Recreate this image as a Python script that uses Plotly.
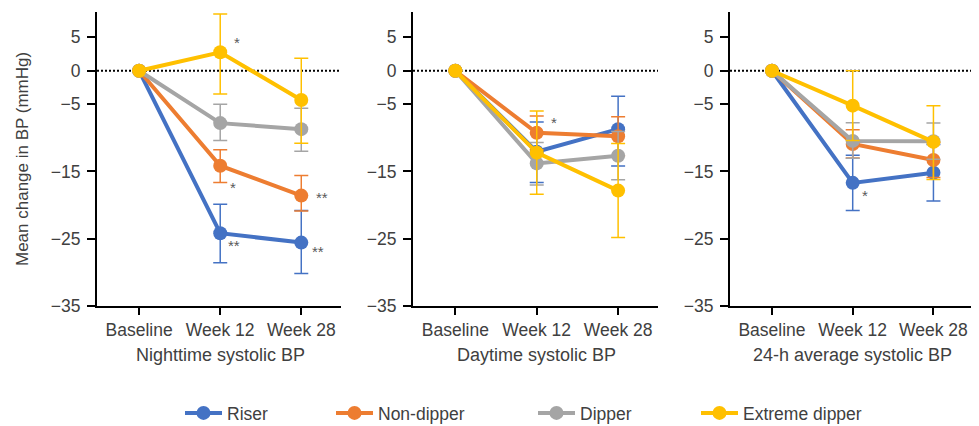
import plotly.graph_objects as go

# ---------------- data ----------------
timepoints = ["Baseline", "Week 12", "Week 28"]
panel_titles = ["Nighttime systolic BP", "Daytime systolic BP", "24-h average systolic BP"]
groups = ["Riser", "Non-dipper", "Dipper", "Extreme dipper"]
y_ticks = [5, 0, -5, -15, -25, -35]
y_title = "Mean change in BP (mmHg)"

# Nighttime systolic BP
night_riser = [0, -24.2, -25.6]
night_nondipper = [0, -14.15, -18.6]
night_dipper = [0, -7.8, -8.7]
night_extreme = [0, 2.75, -4.35]
night_riser_err_up = [0, 4.3, 4.8]
night_riser_err_dn = [0, 4.4, 4.6]
night_nondipper_err_up = [0, 2.4, 3.0]
night_nondipper_err_dn = [0, 2.5, 2.3]
night_dipper_err_up = [0, 2.8, 3.1]
night_dipper_err_dn = [0, 2.6, 3.3]
night_extreme_err_up = [0, 5.7, 6.2]
night_extreme_err_dn = [0, 6.2, 6.45]

# Daytime systolic BP
day_riser = [0, -12.05, -8.7]
day_nondipper = [0, -9.25, -9.75]
day_dipper = [0, -13.8, -12.65]
day_extreme = [0, -12.2, -17.85]
day_riser_err_up = [0, 4.4, 4.9]
day_riser_err_dn = [0, 4.6, 5.5]
day_nondipper_err_up = [0, 2.5, 2.9]
day_nondipper_err_dn = [0, 2.5, 2.9]
day_dipper_err_up = [0, 3.1, 3.6]
day_dipper_err_dn = [0, 3.2, 3.6]
day_extreme_err_up = [0, 6.2, 7.0]
day_extreme_err_dn = [0, 6.2, 7.0]

# 24-h average systolic BP
avg_riser = [0, -16.7, -15.2]
avg_nondipper = [0, -10.9, -13.3]
avg_dipper = [0, -10.45, -10.5]
avg_extreme = [0, -5.2, -10.6]
avg_riser_err_up = [0, 4.1, 4.2]
avg_riser_err_dn = [0, 4.1, 4.2]
avg_nondipper_err_up = [0, 2.1, 2.6]
avg_nondipper_err_dn = [0, 2.1, 2.6]
avg_dipper_err_up = [0, 2.7, 2.7]
avg_dipper_err_dn = [0, 2.6, 2.7]
avg_extreme_err_up = [0, 5.2, 5.4]
avg_extreme_err_dn = [0, 5.2, 5.6]

# significance marks (panel index, group, timepoint index, label)
sig_panel = [0, 0, 0, 0, 0, 1, 2]
sig_group = ["Extreme dipper", "Non-dipper", "Non-dipper", "Riser", "Riser", "Non-dipper", "Riser"]
sig_time = [1, 1, 2, 1, 2, 1, 1]
sig_label = ["*", "*", "**", "**", "**", "*", "*"]

# ---------------- styling ----------------
colors = {"Riser": "#4472C4", "Non-dipper": "#ED7D31", "Dipper": "#A5A5A5", "Extreme dipper": "#FFC000"}
font_family = "Liberation Sans, Arial, sans-serif"
text_color = "#404040"
tick_size = 17.5
title_size = 18
legend_size = 17.5
# pixel offsets of the significance marks relative to their point
sig_dx = [17, 13, 21, 14, 17, 17, 12]
sig_dy = [10, -22, -2, -12, -9, 10, -13]

panel_means = [
    [night_riser, night_nondipper, night_dipper, night_extreme],
    [day_riser, day_nondipper, day_dipper, day_extreme],
    [avg_riser, avg_nondipper, avg_dipper, avg_extreme],
]
panel_err_up = [
    [night_riser_err_up, night_nondipper_err_up, night_dipper_err_up, night_extreme_err_up],
    [day_riser_err_up, day_nondipper_err_up, day_dipper_err_up, day_extreme_err_up],
    [avg_riser_err_up, avg_nondipper_err_up, avg_dipper_err_up, avg_extreme_err_up],
]
panel_err_dn = [
    [night_riser_err_dn, night_nondipper_err_dn, night_dipper_err_dn, night_extreme_err_dn],
    [day_riser_err_dn, day_nondipper_err_dn, day_dipper_err_dn, day_extreme_err_dn],
    [avg_riser_err_dn, avg_nondipper_err_dn, avg_dipper_err_dn, avg_extreme_err_dn],
]

# The page body has an 8px margin, so the figure starts at (8, 8) in the window.
OFF = 8
W, H = 979 - OFF, 426 - OFF


def px_x(X):
    return (X - OFF) / W


def px_y(Y):
    return 1 - (Y - OFF) / H


x_domains = [[px_x(97), px_x(341)], [px_x(413), px_x(658)], [px_x(730), px_x(973)]]
y_domain = [px_y(305.7), px_y(11.7)]
legend_names = ["legend", "legend2", "legend3", "legend4"]
legend_origin = [180, 331, 533, 696]

fig = go.Figure()
xpos = list(range(len(timepoints)))

for p in range(3):
    xa = "x" if p == 0 else f"x{p + 1}"
    ya = "y" if p == 0 else f"y{p + 1}"
    for g, name in enumerate(groups):
        fig.add_trace(go.Scatter(
            x=xpos, y=panel_means[p][g],
            mode="lines+markers",
            name=name,
            legend=legend_names[g],
            showlegend=(p == 0),
            line=dict(color=colors[name], width=4),
            marker=dict(color=colors[name], size=14),
            error_y=dict(type="data", symmetric=False,
                         array=panel_err_up[p][g], arrayminus=panel_err_dn[p][g],
                         color=colors[name], thickness=1.5, width=7),
            xaxis=xa, yaxis=ya,
        ))

layout = dict(
    width=W, height=H,
    margin=dict(l=0, r=0, t=0, b=0, autoexpand=False),
    paper_bgcolor="white", plot_bgcolor="white",
    font=dict(family=font_family, size=tick_size, color=text_color),
    shapes=[], annotations=[],
)

for p in range(3):
    xkey = "xaxis" if p == 0 else f"xaxis{p + 1}"
    ykey = "yaxis" if p == 0 else f"yaxis{p + 1}"
    ya = "y" if p == 0 else f"y{p + 1}"
    xa = "x" if p == 0 else f"x{p + 1}"
    layout[xkey] = dict(
        domain=x_domains[p], range=[-0.52, 2.49], anchor=ya,
        tickmode="array", tickvals=xpos, ticktext=timepoints,
        showline=True, linecolor="black", linewidth=2,
        ticks="outside", ticklen=7, tickwidth=2, tickcolor="black",
        showgrid=False, zeroline=False, fixedrange=True, automargin=False,
        tickfont=dict(size=tick_size, color=text_color),
    )
    layout[ykey] = dict(
        domain=y_domain, range=[-35, 8.8], anchor=xa,
        tickmode="array", tickvals=y_ticks,
        showline=True, linecolor="black", linewidth=2,
        ticks="outside", ticklen=8, tickwidth=2, tickcolor="black",
        ticklabelstandoff=3,
        showgrid=False, zeroline=False, fixedrange=True, automargin=False,
        tickfont=dict(size=tick_size, color=text_color),
    )
    layout["shapes"].append(dict(
        type="line", xref=f"{xa} domain", yref=ya,
        x0=0, x1=1, y0=0, y1=0, layer="below",
        line=dict(color="black", width=2, dash="2px,2px"),
    ))
    layout["annotations"].append(dict(
        text=panel_titles[p], xref=xa, yref="paper",
        x=1, y=px_y(355), showarrow=False,
        font=dict(size=title_size, color=text_color), xanchor="center", yanchor="middle",
    ))

layout["annotations"].append(dict(
    text=y_title, xref="paper", yref="paper",
    x=px_x(22), y=px_y(159), textangle=-90, showarrow=False,
    font=dict(size=17, color=text_color), xanchor="center", yanchor="middle",
))

for i in range(len(sig_label)):
    p = sig_panel[i]
    g = groups.index(sig_group[i])
    t = sig_time[i]
    xa = "x" if p == 0 else f"x{p + 1}"
    ya = "y" if p == 0 else f"y{p + 1}"
    layout["annotations"].append(dict(
        text=sig_label[i], xref=xa, yref=ya,
        x=xpos[t], y=panel_means[p][g][t],
        xshift=sig_dx[i], yshift=sig_dy[i], showarrow=False,
        font=dict(size=15, color="#595959"), xanchor="center", yanchor="middle",
    ))

for g, ln in enumerate(legend_names):
    layout[ln] = dict(
        orientation="h", x=px_x(legend_origin[g]), y=px_y(413),
        xanchor="left", yanchor="middle",
        bgcolor="rgba(0,0,0,0)", borderwidth=0,
        font=dict(size=legend_size, color=text_color), itemwidth=37,
    )

fig.update_layout(**layout)
fig.write_html("out.html")
